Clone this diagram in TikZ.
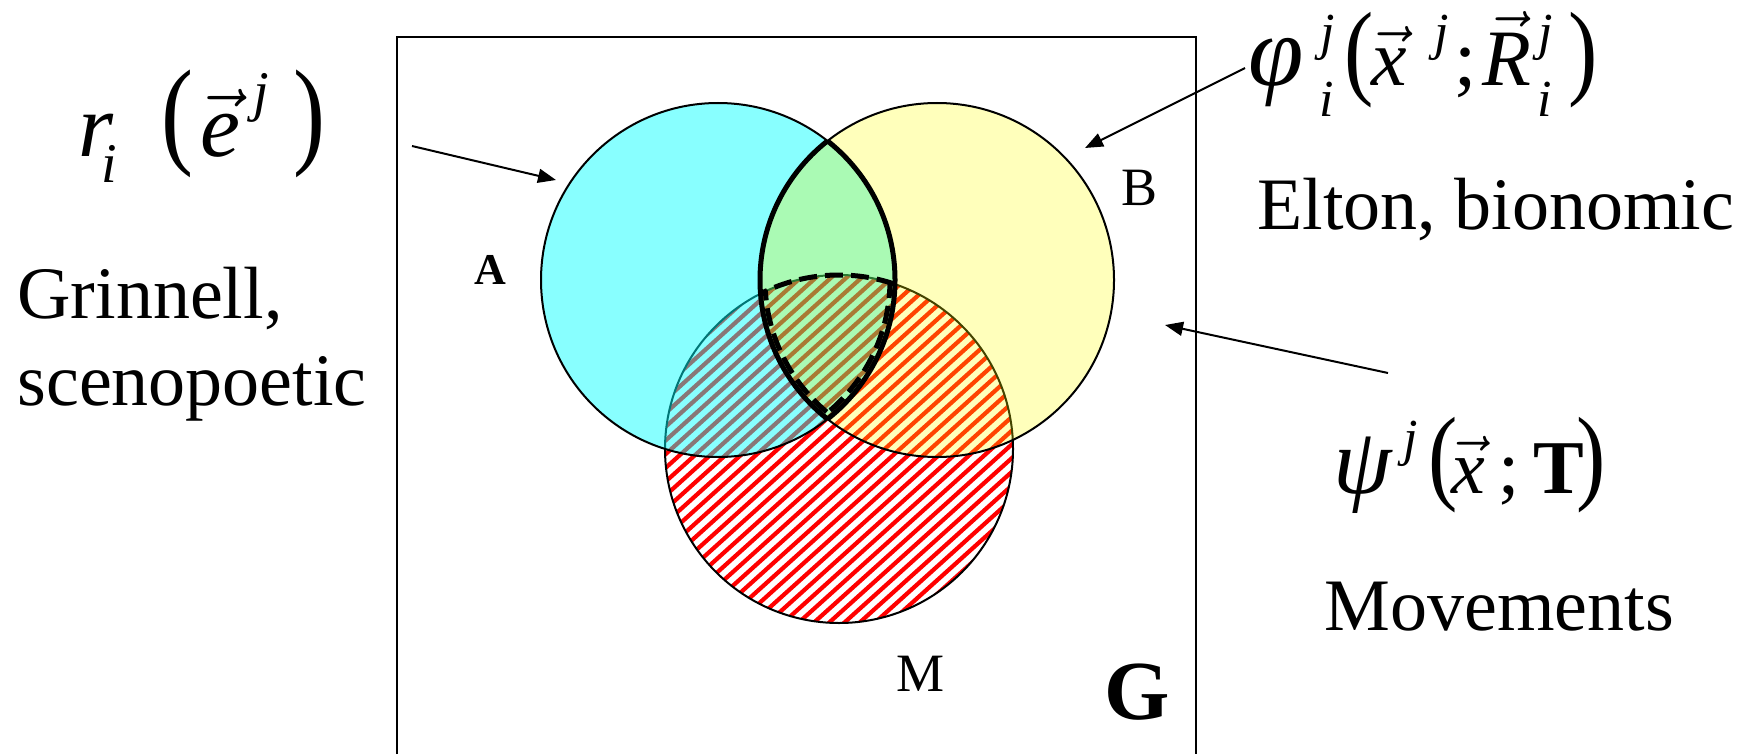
\RequirePackage{fix-cm}
\documentclass[tikz,border=0pt]{standalone}
\usepackage{amsmath}
\usepackage{graphicx}
\usepackage{fontspec}
\setmainfont{Liberation Serif}
\usetikzlibrary{arrows.meta}
\definecolor{lensgreen}{RGB}{85,245,105}
\definecolor{cyanA}{RGB}{0,255,255}
\definecolor{yellowB}{RGB}{255,255,0}
\definecolor{hatchred}{RGB}{255,0,0}
\newcommand{\fs}[1]{\fontsize{#1}{#1}\selectfont}
\newcommand{\scr}[1]{{\fs{26}\itshape #1}}
\newcommand{\putat}[2]{\rlap{\hspace{#1}#2}}
\newcommand{\tallpar}[3]{\raisebox{#3}{\scalebox{1}[#2]{\upshape\fs{#1}(}}}
\newcommand{\tallcl}[3]{\raisebox{#3}{\scalebox{1}[#2]{\upshape\fs{#1})}}}
\begin{document}
\begin{tikzpicture}[x=0.5pt,y=-0.5pt,
  outl/.style={draw=black, line width=1pt},
  thickl/.style={draw=black, line width=2.5pt},
  dashl/.style={draw=black, line width=2.5pt, dash pattern=on 9pt off 4pt},
  hatch/.style={draw=hatchred, line width=2.1pt},
  arr/.style={line width=1pt, -{Triangle[length=9pt,width=7pt]}},
  txt/.style={font=\fs{37}, anchor=base west, inner sep=0pt},
  fml/.style={anchor=base west, inner sep=0pt},
  setlbl/.style={font=\fs{27}, inner sep=0pt}]
\useasboundingbox (0,0) rectangle (1759,754);
\coordinate (cA) at (718,280);
\coordinate (cB) at (937,280);
\coordinate (cM) at (839,449);
% frame G (open at bottom)
\coordinate (g1) at (397,754);
\coordinate (g2) at (397,37);
\coordinate (g3) at (1196,37);
\coordinate (g4) at (1196,754);
\draw[outl] (g1) -- (g2) -- (g3) -- (g4);
% hatched M
\begin{scope}
  \clip (cM) circle[radius=174];
  \begin{scope}[shift={(cM)}, rotate=42]
    \foreach \k in {-20,...,20} \draw[hatch] (-260,\k*10.2) -- (260,\k*10.2);
  \end{scope}
\end{scope}
\draw[outl] (cM) circle[radius=174];
% A only
\begin{scope}
  \clip (cA) circle[radius=177];
  \fill[cyanA, fill opacity=0.467, even odd rule] (cA) circle[radius=177] (cB) circle[radius=177];
\end{scope}
% B only
\begin{scope}
  \clip (cB) circle[radius=177];
  \fill[yellowB, fill opacity=0.267, even odd rule] (cA) circle[radius=177] (cB) circle[radius=177];
\end{scope}
% lens
\begin{scope}
  \clip (cA) circle[radius=177];
  \fill[lensgreen, fill opacity=0.5] (cB) circle[radius=177];
\end{scope}
\draw[outl] (cA) circle[radius=177];
\draw[outl] (cB) circle[radius=177];
% thick lens outline
\begin{scope}
  \clip (cA) circle[radius=177];
  \draw[thickl] (cB) circle[radius=177];
\end{scope}
\begin{scope}
  \clip (cB) circle[radius=177];
  \draw[thickl] (cA) circle[radius=177];
\end{scope}
% dashed triple region
\begin{scope}
  \clip (cA) circle[radius=177];
  \clip (cB) circle[radius=177];
  \draw[dashl] (cM) circle[radius=174];
\end{scope}
\begin{scope}
  \clip (cM) circle[radius=174];
  \clip (cA) circle[radius=177];
  \clip (cB) circle[radius=177];
  \draw[dashl] (cA) circle[radius=172];
  \draw[dashl] (cB) circle[radius=172];
\end{scope}
% set labels
\node[setlbl, font=\fs{22}\bfseries] (lA) at (490,270) {A};
\node[setlbl] (lB) at (1139,188) {B};
\node[setlbl] (lM) at (920,674) {M};
\node[setlbl, font=\fs{42}\bfseries] (lG) at (1137,692) {G};
% formulas and texts
\node[fml] (rf) at (77,157) {\fs{45}\itshape
  \putat{0pt}{r}%
  \putat{11.5pt}{\raisebox{-13pt}{{\fs{28}i}}}%
  \putat{41.5pt}{\tallpar{48}{1.24}{2pt}}%
  \putat{61pt}{$\vec{\text{\itshape e}}$}%
  \putat{87.5pt}{\raisebox{23pt}{{\fs{28}j}}}%
  \putat{107.5pt}{\tallcl{48}{1.24}{2pt}}%
  \hspace{122pt}};
\node[txt] (grin) at (17,318) {Grinnell,};
\node[txt] (sceno) at (17,405) {scenopoetic};
\node[fml] (phif) at (1247,86) {\fs{40}\itshape
  \putat{0pt}{\fs{50}φ}%
  \putat{36pt}{\raisebox{18pt}{\scr{j}}}%
  \putat{35.5pt}{\raisebox{-15.5pt}{\scr{i}}}%
  \putat{48pt}{\tallpar{44}{1.2}{0pt}}%
  \putat{61.5pt}{$\vec{\text{\itshape x}}$}%
  \putat{93pt}{\raisebox{18pt}{\scr{j}}}%
  \putat{103pt}{\upshape;}%
  \putat{117pt}{$\vec{\text{\itshape R}}$}%
  \putat{145pt}{\raisebox{18pt}{\scr{j}}}%
  \putat{144.5pt}{\raisebox{-15.5pt}{\scr{i}}}%
  \putat{160pt}{\tallcl{44}{1.2}{0pt}}%
  \hspace{174pt}};
\node[txt] (elton) at (1257,229) {Elton, bionomic};
\node[fml] (psif) at (1332,493) {\fs{38}\itshape
  \putat{0pt}{\fs{47}ψ}%
  \putat{35pt}{\raisebox{19pt}{\scr{j}}}%
  \putat{47.5pt}{\tallpar{44}{1.2}{1.5pt}}%
  \putat{59pt}{$\vec{\text{\itshape x}}$}%
  \putat{82.5pt}{\upshape;}%
  \putat{100pt}{\upshape\bfseries T}%
  \putat{121.5pt}{\tallcl{44}{1.2}{1.5pt}}%
  \hspace{133pt}};
\node[txt] (mov) at (1324,630) {Movements};
% arrows
\coordinate (a1s) at (412,146);
\coordinate (a1e) at (556,180);
\coordinate (a2s) at (1245,68);
\coordinate (a2e) at (1085,148);
\coordinate (a3s) at (1388,373);
\coordinate (a3e) at (1165,325);
\draw[arr] (a1s) -- (a1e);
\draw[arr] (a2s) -- (a2e);
\draw[arr] (a3s) -- (a3e);
\end{tikzpicture}
\end{document}
